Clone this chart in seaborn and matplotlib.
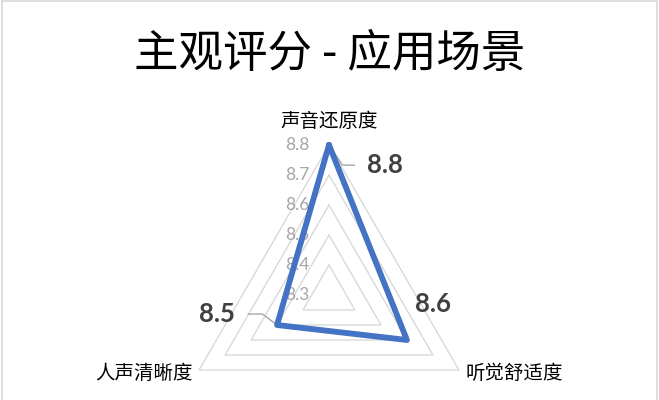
import numpy as np
import pandas as pd
import matplotlib
matplotlib.use("Agg")
import matplotlib.pyplot as plt
from matplotlib.patches import Rectangle
import seaborn as sns

# chart data
title = "主观评分 - 应用场景"
categories = ["声音还原度", "听觉舒适度", "人声清晰度"]
scores = [8.8, 8.6, 8.5]
tick_values = [8.3, 8.4, 8.5, 8.6, 8.7, 8.8]

blue = "#4472C4"
grid_grey = "#d9d9d9"
tick_grey = "#a6a6a6"
label_dark = "#404040"

sns.set_theme(style="white")
plt.rcParams['font.family'] = ['Noto Sans CJK SC', 'DejaVu Sans']
num_font = ['Lato', 'DejaVu Sans']

fig = plt.figure(figsize=(6.59, 4.0), dpi=100)
ax = fig.add_axes([179 / 659, -45 / 400, 300 / 659, 300 / 400], projection='polar')
ax.set_theta_offset(np.pi / 2)
ax.set_theta_direction(-1)

# angles for each category, closed loop
angles = np.linspace(0, 2 * np.pi, len(categories) + 1)
closed_scores = scores + [scores[0]]

# triangular grid
for lvl in tick_values[1:]:
    ax.plot(angles, [lvl] * len(angles), color=grid_grey, lw=1.0, zorder=1, clip_on=False)

# data line
df = pd.DataFrame({'theta': angles, 'score': closed_scores})
sns.lineplot(data=df, x='theta', y='score', sort=False, estimator=None,
             color=blue, linewidth=4.2, ax=ax, zorder=4)
line = ax.lines[-1]
line.set_clip_on(False)
line.set_solid_joinstyle('round')

ax.set_ylim(tick_values[0], tick_values[-1])
ax.grid(False)
ax.spines['polar'].set_visible(False)
ax.set_xticks([])
ax.set_yticks([])
ax.set_xlabel('')
ax.set_ylabel('')
ax.patch.set_alpha(0)

# radial tick labels along the top axis
for v in tick_values:
    ax.annotate(f"{v:.1f}", xy=(0, v), xytext=(-14.4, 0), textcoords='offset points',
                ha='right', va='center', fontsize=12.5, color=tick_grey,
                family=num_font, zorder=2, annotation_clip=False)

# category labels
cat_offsets = [(0, 16.6), (5, -2.2), (-4.3, -2.2)]
cat_ha = ['center', 'left', 'right']
for ang, name, off, ha in zip(angles[:-1], categories, cat_offsets, cat_ha):
    ax.annotate(name, xy=(ang, tick_values[-1]), xytext=off, textcoords='offset points',
                ha=ha, va='center', fontsize=14, color='black', annotation_clip=False)

# data labels with leader lines
label_offsets = [(40.3, -14.5), (18.7, 25.9), (-43.2, 7.9)]
leaders = [
    dict(arrowstyle='-', color=tick_grey, lw=1.0, relpos=(0, 0.5),
         connectionstyle='angle,angleA=0,angleB=124,rad=0', shrinkA=6.5, shrinkB=6.5),
    None,
    dict(arrowstyle='-', color=tick_grey, lw=1.0, relpos=(1, 0.5),
         connectionstyle='angle,angleA=0,angleB=143,rad=0', shrinkA=7, shrinkB=1),
]
for ang, val, off, arr in zip(angles[:-1], scores, label_offsets, leaders):
    ax.annotate(f"{val:.1f}", xy=(ang, val), xytext=off, textcoords='offset points',
                ha='center', va='center', fontsize=18.5, fontweight='bold',
                color=label_dark, family=num_font, arrowprops=arr,
                zorder=3, annotation_clip=False)

fig.text(330 / 659, 1 - 54 / 400, title, ha='center', va='center',
         fontsize=32, color='black', fontweight='light')

# light chart border
fig.patches.append(Rectangle((0.003, -0.1), 0.994, 1.097, transform=fig.transFigure,
                             fill=False, edgecolor=grid_grey, lw=1.2))

fig.savefig('out.png', dpi=100)
